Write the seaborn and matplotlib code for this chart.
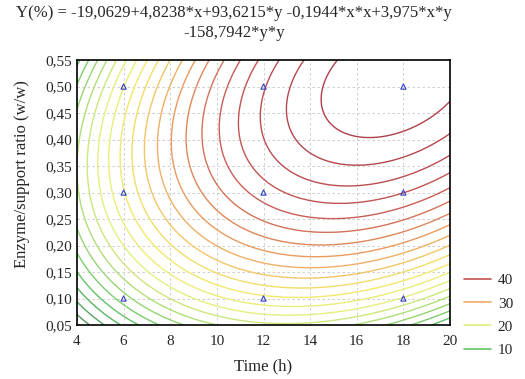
import numpy as np
import pandas as pd
import seaborn as sns
import matplotlib.pyplot as plt
from matplotlib.colors import LinearSegmentedColormap
from matplotlib.lines import Line2D

# fitted model: Y = b0 + b1*x + b2*y + b11*x*x + b12*x*y + b22*y*y
coef = [-19.0629, 4.8238, 93.6215, -0.1944, 3.975, -158.7942]
levels = list(range(2, 48, 2))
legend_levels = [40, 30, 20, 10]

# design points
time_pts = [6, 6, 6, 12, 12, 12, 18, 18, 18]
ratio_pts = [0.1, 0.3, 0.5, 0.1, 0.3, 0.5, 0.1, 0.3, 0.5]

x_ticks = [4, 6, 8, 10, 12, 14, 16, 18, 20]
y_ticks = [0.05, 0.10, 0.15, 0.20, 0.25, 0.30, 0.35, 0.40, 0.45, 0.50, 0.55]

sns.set_style("white")
plt.rcParams['font.family'] = ['Liberation Serif', 'DejaVu Serif']

xs = np.linspace(4, 20, 300)
ys = np.linspace(0.05, 0.55, 300)
X, Y = np.meshgrid(xs, ys)
b0, b1, b2, b11, b12, b22 = coef
Z = b0 + b1 * X + b2 * Y + b11 * X * X + b12 * X * Y + b22 * Y * Y

cmap = LinearSegmentedColormap.from_list("stat", [
    (0.0, "#4a7a55"), (0.2, "#5cc266"), (0.42, "#e8f080"),
    (0.52, "#f2e868"), (0.64, "#f0a862"), (0.8, "#c85a55"), (1.0, "#a83848")])

fig = plt.figure(figsize=(5.25, 3.79), dpi=100)
ax = fig.add_axes([0.1467, 0.1425, 0.7105, 0.699])

ax.contour(X, Y, Z, levels=levels, cmap=cmap, vmin=0, vmax=48, linewidths=1.0)

pts = pd.DataFrame({"t": time_pts, "r": ratio_pts})
sns.scatterplot(data=pts, x="t", y="r", marker="^", s=14, facecolor="none",
                edgecolor="#3040c0", linewidth=0.8, ax=ax, zorder=5)

ax.set_xlim(4, 20)
ax.set_ylim(0.05, 0.55)
ax.set_xticks(x_ticks)
ax.set_yticks(y_ticks)
ax.set_xticklabels([str(v) for v in x_ticks], fontsize=11)
ax.set_yticklabels([f"{v:.2f}".replace(".", ",") for v in y_ticks], fontsize=11)
ax.set_xticks(np.arange(5, 20, 2), minor=True)
ax.tick_params(which="both", direction="in", length=3, color="black", width=1)
ax.tick_params(which="minor", length=2)
ax.tick_params(axis="x", pad=7)
ax.grid(True, which="major", linestyle=(0, (3, 3)), color="#c8c8c8", linewidth=0.6)
for s in ax.spines.values():
    s.set_color("black")
    s.set_linewidth(1.2)

ax.set_xlabel("Time (h)", fontsize=12, labelpad=8)
ax.set_ylabel("Enzyme/support ratio (w/w)", fontsize=12)
ax.yaxis.set_label_coords(-0.125, 0.57)

fig.text(0.446, 0.965, "Y(%) = -19,0629+4,8238*x+93,6215*y -0,1944*x*x+3,975*x*y",
         ha="center", va="center", fontsize=12)
fig.text(0.446, 0.912, "-158,7942*y*y", ha="center", va="center", fontsize=12)

handles = [Line2D([0], [0], color=cmap(lv / 48), lw=1.2) for lv in legend_levels]
fig.legend(handles, [str(lv) for lv in legend_levels], loc="center left",
           bbox_to_anchor=(0.884, 0.168), frameon=False, fontsize=11,
           handlelength=1.75, handletextpad=0.45, labelspacing=0.62,
           borderpad=0, borderaxespad=0)

fig.savefig("out.png", dpi=100)
